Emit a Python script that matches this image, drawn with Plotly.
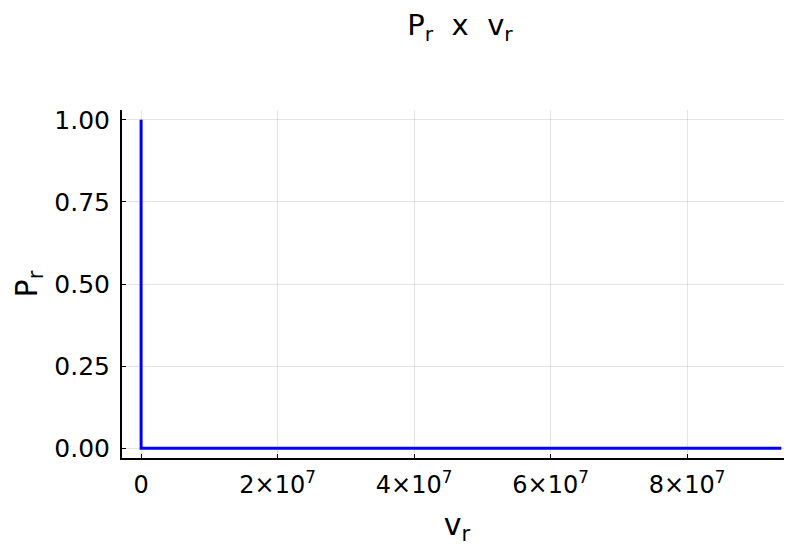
import plotly.graph_objects as go

# Data
vr = [0.0, 0.0, 9.38e7]
Pr = [1.0, 0.0, 0.0]

xtick_vals = [0, 2e7, 4e7, 6e7, 8e7]
xtick_text = ["0", "2×10<sup>7</sup>", "4×10<sup>7</sup>", "6×10<sup>7</sup>", "8×10<sup>7</sup>"]
ytick_vals = [0.0, 0.25, 0.5, 0.75, 1.0]
ytick_text = ["0.00", "0.25", "0.50", "0.75", "1.00"]

fig = go.Figure()
fig.add_trace(go.Scatter(x=vr, y=Pr, mode="lines",
                         line=dict(color="rgb(0,0,255)", width=3),
                         showlegend=False))

font = "DejaVu Sans, sans-serif"
nb = "\u00a0"
# page body has an 8px margin; figure sized to fit the 792x546 window
fig.update_layout(
    width=784, height=538,
    paper_bgcolor="white", plot_bgcolor="white",
    margin=dict(l=114, r=0, t=102, b=88),
    title=dict(text=f"P<sub>r</sub>{nb}{nb}x{nb}{nb}v<sub>r</sub>", x=0.5765, xanchor="center",
               y=0.9684, yanchor="middle",
               font=dict(family=font, size=29, color="black")),
    font=dict(family=font, color="black"),
)
fig.update_xaxes(
    range=[-2.8e6, 9.537e7],
    tickvals=xtick_vals, ticktext=xtick_text,
    tickfont=dict(family=font, size=24, color="black"),
    showgrid=True, gridcolor="rgba(0,0,0,0.1)", gridwidth=1,
    zeroline=False,
    showline=True, linecolor="black", linewidth=2,
    ticks="inside", ticklen=4, tickcolor="black", tickwidth=1,
    ticklabelstandoff=4,
    automargin=False,
    title=dict(text="v<sub>r</sub>", font=dict(family=font, size=30, color="black"), standoff=17),
)
fig.update_yaxes(
    range=[-0.03, 1.03],
    tickvals=ytick_vals, ticktext=ytick_text,
    tickfont=dict(family=font, size=25, color="black"),
    showgrid=True, gridcolor="rgba(0,0,0,0.1)", gridwidth=1,
    zeroline=False,
    showline=True, linecolor="black", linewidth=2,
    ticks="inside", ticklen=4, tickcolor="black", tickwidth=1,
    ticklabelstandoff=5,
    automargin=False,
    title=dict(text="P<sub>r</sub>", font=dict(family=font, size=30, color="black"), standoff=8),
)

fig.write_html("out.html")
